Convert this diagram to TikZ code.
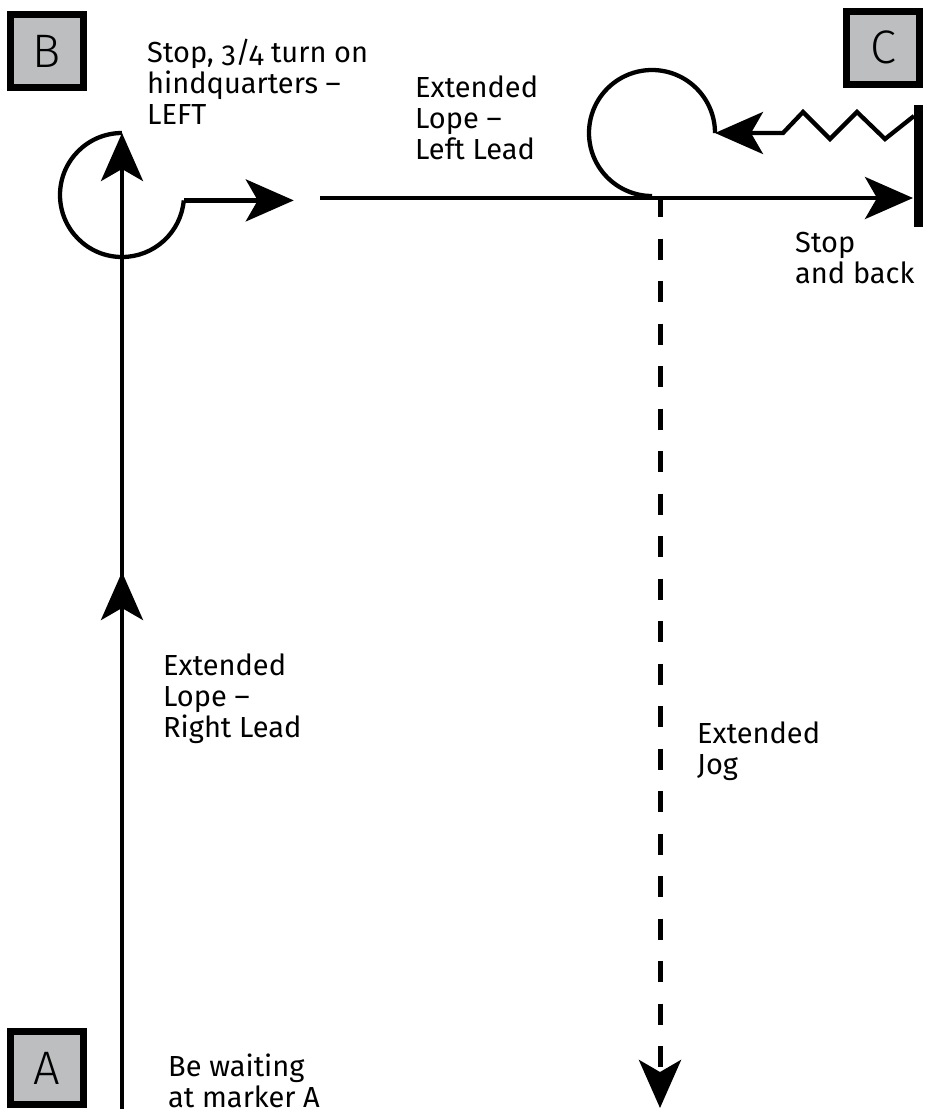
\documentclass[tikz,border=0pt]{standalone}
\usepackage{fontspec}
\setmainfont{Fira Sans}[Numbers=OldStyle]
\newfontfamily\markerfont{Fira Sans Light}
\usetikzlibrary{arrows.meta}
\definecolor{markergray}{RGB}{188,190,192}
\begin{document}
\begin{tikzpicture}[x=1pt,y=-1pt,
  trail/.style={line width=4.3pt, line join=miter},
  arrowhd/.style={-{Stealth[length=48pt,width=42pt,inset=12pt]}},
  marker/.style={draw=black, line width=7pt, fill=markergray, minimum width=73pt, minimum height=73pt, inner sep=0pt, font=\markerfont\fontsize{47}{47}\selectfont},
  lbl/.style={inner sep=0pt, anchor=base west, align=left, font=\fontsize{29}{31}\selectfont}]
\useasboundingbox (0,0) rectangle (925,1109);
% markers
\node[marker] (B) at (47,51) {B};
\node[marker] (C) at (883,47.5) {C};
\node[marker] (A) at (47,1068) {A};
% labels (anchored at the baseline of their last line)
\node[lbl] (t1) at (147,124) {Stop, 3/4 turn on\\hindquarters –\\LEFT};
\node[lbl] (t2) at (415,159) {Extended\\Lope –\\Left Lead};
\node[lbl] (t3) at (795,283) {Stop\\and back};
\node[lbl] (t4) at (163,737) {Extended\\Lope –\\Right Lead};
\node[lbl] (t5) at (697,774) {Extended\\Jog};
\node[lbl] (t6) at (168,1107) {Be waiting\\at marker A};
% coordinates
\coordinate (Abot) at (122,1109);
\coordinate (Btop) at (122,133);
\coordinate (midtail) at (122,630);
\coordinate (midtip) at (122,572);
\coordinate (topstart) at (320,198);
\coordinate (topend) at (913,198);
\coordinate (wallt) at (918,105);
\coordinate (wallb) at (918,227);
\coordinate (Cloop) at (652,196);
\coordinate (jogstart) at (660,196);
\coordinate (jogend) at (660,1108);
% route A -> B
\draw[trail,arrowhd] (Abot) -- (Btop);
\draw[trail,arrowhd] (midtail) -- (midtip);
\draw[trail] (Btop) arc[start angle=-90, end angle=-355, radius=62] coordinate (Bturn);
\draw[trail,arrowhd] (Bturn) -- ++(110,0);
% top line to C
\draw[trail,arrowhd] (topstart) -- (topend);
\draw[line width=9pt] (wallt) -- (wallb);
% back up (zigzag) and loop
\draw[trail,arrowhd] (914,116) -- (885,139) -- (857,112) -- (830,139) -- (803,112) -- (783,133) -- (715,133);
\draw[trail] (Cloop) arc[start angle=90, end angle=360, radius=63];
% jog
\draw[line width=5pt, dash pattern=on 21pt off 21.5pt, arrowhd] (jogstart) -- (jogend);
\end{tikzpicture}
\end{document}
